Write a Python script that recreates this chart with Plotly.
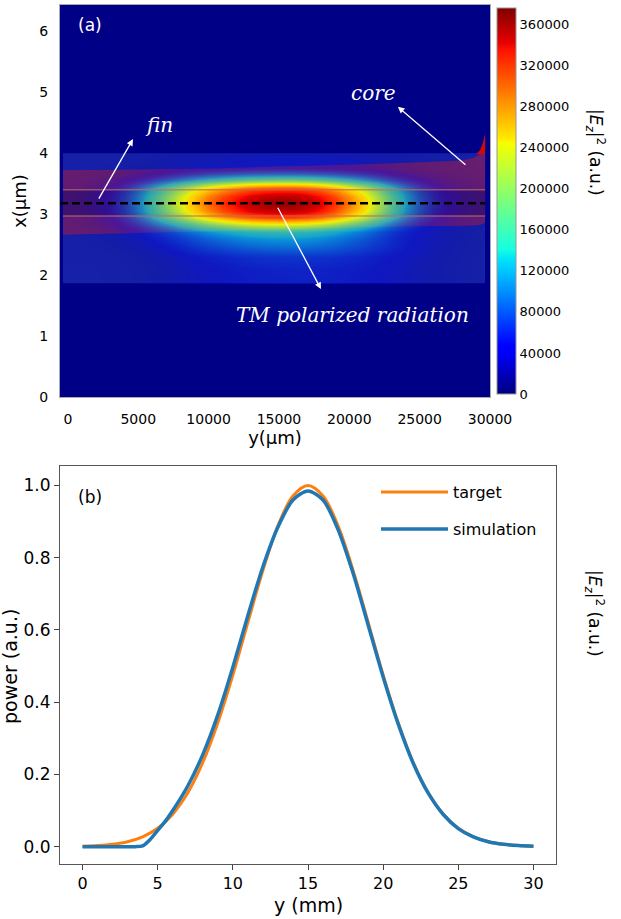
import plotly.graph_objects as go

W, H = 621, 919

# ---------------- panel (b): power profiles ----------------
y_mm = list(range(0, 31))
target = [0.0012, 0.0029, 0.0066, 0.0138, 0.0273, 0.051, 0.090, 0.149, 0.233, 0.343,
          0.475, 0.621, 0.765, 0.888, 0.971, 1.0, 0.971, 0.888, 0.765, 0.621,
          0.475, 0.343, 0.233, 0.149, 0.090, 0.051, 0.0273, 0.0138, 0.0066, 0.0029, 0.0012]

sim_y_mm = [0, 1, 2, 3, 3.5, 4, 4.5, 5, 5.5, 6, 7, 8, 9, 10, 11, 12, 13, 14, 15,
            16, 17, 18, 19, 20, 21, 22, 23, 24, 25, 26, 27, 28, 29, 30]
simulation = [0.0, 0.0, 0.0, 0.0, 0.0, 0.002, 0.02, 0.045, 0.07, 0.10, 0.168, 0.255, 0.365,
              0.497, 0.64, 0.775, 0.885, 0.96, 0.985, 0.96, 0.878, 0.757, 0.614, 0.47,
              0.34, 0.231, 0.148, 0.089, 0.05, 0.027, 0.0137, 0.0066, 0.0029, 0.0012]

# ---------------- panel (a): |Ez|^2 map ----------------
field_peak = 370000
map_y_mm = [0, 1, 2, 3, 4, 5, 6, 7, 8, 9, 10, 11, 12, 13, 14, 15, 16, 17, 18, 19,
            20, 21, 22, 23, 24, 25, 26, 27, 28, 29, 29.65]
map_along = [0.04, 0.06, 0.1, 0.15, 0.23, 0.33, 0.44, 0.55, 0.65, 0.74, 0.82, 0.88, 0.93,
             0.97, 0.99, 1.0, 1.0, 0.98, 0.94, 0.88, 0.8, 0.71, 0.6, 0.48, 0.37, 0.27,
             0.19, 0.13, 0.09, 0.06, 0.05]
leak_along = [0, 0, 0, 0.02, 0.06, 0.12, 0.22, 0.35, 0.5, 0.62, 0.72, 0.8, 0.87, 0.92,
              0.96, 0.98, 1.0, 1.0, 0.98, 0.95, 0.9, 0.84, 0.76, 0.67, 0.57, 0.46, 0.35,
              0.24, 0.14, 0.07, 0.03]
across_x_um = [0.0, 1.85, 1.87, 2.1, 2.3, 2.4, 2.5, 2.6, 2.7, 2.8, 2.95, 3.05, 3.18, 3.3,
               3.42, 3.5, 3.56, 3.65, 3.75, 3.85, 3.99, 4.01, 6.43]
core_across = [0, 0, 0, 0, 0.04, 0.1, 0.18, 0.28, 0.4, 0.6, 0.87, 0.96, 1.0, 0.96, 0.87,
               0.68, 0.5, 0.3, 0.15, 0.08, 0.04, 0, 0]
leak_across = [0, 0, 0.16, 0.17, 0.17, 0.17, 0.14, 0.09, 0.04, 0, 0, 0, 0, 0, 0, 0, 0,
               0, 0, 0.04, 0.05, 0, 0]

# structure outlines (y in um along, x in um across)
band_y_um = [-350, 29650, 29650, -350]
band_x_um = [1.865, 1.865, 4.0, 4.0]
fin_y_um = [-350, 5000, 10000, 15000, 20000, 25000, 28000, 28800, 29300, 29650,
            29650, 29300, 28500, 25000, 20000, 15000, 10000, 5000, -350]
fin_x_um = [3.72, 3.73, 3.75, 3.78, 3.81, 3.85, 3.88, 3.92, 3.98, 4.02,
            2.86, 2.82, 2.81, 2.80, 2.78, 2.75, 2.72, 2.69, 2.66]
core_y_um = [-350, 29650, 29650, -350]
core_x_um = [2.97, 2.97, 3.40, 3.40]
spike_y_um = [29000, 29300, 29500, 29650, 29650]
spike_x_um = [3.98, 4.05, 4.18, 4.32, 3.98]
core_line_y_um = [-350, 29650]
core_top_x_um = [3.40, 3.40]
core_bot_x_um = [2.97, 2.97]
axis_line_y_um = [-560, 29650]
axis_line_x_um = [3.18, 3.18]

cbar_ticks = [0, 40000, 80000, 120000, 160000, 200000, 240000, 280000, 320000, 360000]

jet = [[0.0, "rgb(0,0,128)"], [0.11, "rgb(0,0,255)"], [0.125, "rgb(0,0,255)"],
       [0.34, "rgb(0,219,255)"], [0.35, "rgb(0,229,247)"], [0.375, "rgb(21,255,226)"],
       [0.64, "rgb(238,255,8)"], [0.65, "rgb(247,255,0)"], [0.66, "rgb(255,236,0)"],
       [0.89, "rgb(255,19,0)"], [0.91, "rgb(232,0,0)"], [1.0, "rgb(128,0,0)"]]
# same jet map, with weak intensities see-through so the waveguide structure shows
jet_see_through = [
    [0.0, "rgba(0,0,128,0)"], [0.1, "rgba(0,0,243,0.22)"], [0.11, "rgba(0,0,255,0.24)"],
    [0.125, "rgba(0,0,255,0.27)"], [0.2, "rgba(0,77,255,0.4)"],
    [0.3, "rgba(0,179,255,0.52)"], [0.34, "rgba(0,219,255,0.56)"],
    [0.35, "rgba(0,229,247,0.57)"], [0.375, "rgba(21,255,226,0.6)"],
    [0.4, "rgba(41,255,206,0.63)"], [0.5, "rgba(123,255,123,0.75)"],
    [0.6, "rgba(206,255,41,0.88)"], [0.64, "rgba(238,255,8,0.93)"],
    [0.65, "rgba(247,255,0,0.94)"], [0.66, "rgba(255,236,0,0.95)"],
    [0.7, "rgb(255,202,0)"], [0.89, "rgb(255,19,0)"], [0.91, "rgb(232,0,0)"],
    [1.0, "rgb(128,0,0)"]]

z = [[field_peak * (c * a + l * b) for a, b in zip(map_along, leak_along)]
     for c, l in zip(core_across, leak_across)]
along_um = [v * 1000 for v in map_y_mm]


def fx(px):
    return px / W


def fy(py):
    return 1 - py / H


def poly_path(ys, xs):
    return "M " + " L ".join(f"{a},{b}" for a, b in zip(ys, xs)) + " Z"


FONT = "DejaVu Sans"
SERIF = "DejaVu Serif"

fig = go.Figure()

fig.add_trace(go.Heatmap(
    x=along_um, y=across_x_um, z=z, zmin=0, zmax=376000, colorscale=jet_see_through,
    zsmooth="best", xaxis="x", yaxis="y", hoverinfo="skip", showscale=False))

# colour bar (opaque jet)
fig.add_trace(go.Scatter(
    x=[None], y=[None], mode="markers", showlegend=False, hoverinfo="skip",
    xaxis="x", yaxis="y",
    marker=dict(color=[0], cmin=0, cmax=376000, colorscale=jet, showscale=True,
                colorbar=dict(x=fx(497), xanchor="left", xpad=0, y=fy(201),
                              yanchor="middle", ypad=0, len=386 / H, lenmode="fraction",
                              thickness=19, thicknessmode="pixels", tickvals=cbar_ticks,
                              tickformat="d", ticks="",
                              tickfont=dict(family=FONT, size=13, color="black"),
                              outlinecolor="rgb(150,150,150)", outlinewidth=1))))

fig.add_trace(go.Scatter(x=spike_y_um, y=spike_x_um, fill="toself", mode="none",
                         fillcolor="rgb(205,10,10)", showlegend=False,
                         hoverinfo="skip", xaxis="x", yaxis="y"))
for xs in (core_top_x_um, core_bot_x_um):
    fig.add_trace(go.Scatter(x=core_line_y_um, y=xs, mode="lines",
                             line=dict(color="rgba(190,110,95,0.7)", width=1.5),
                             showlegend=False, hoverinfo="skip", xaxis="x", yaxis="y"))
fig.add_trace(go.Scatter(x=axis_line_y_um, y=axis_line_x_um, mode="lines",
                         line=dict(color="black", width=2.5, dash="8px,4px"),
                         showlegend=False, hoverinfo="skip", xaxis="x", yaxis="y"))

# panel (b) lines
fig.add_trace(go.Scatter(x=y_mm, y=target, mode="lines", name="target",
                         line=dict(color="#ff7f0e", width=3, shape="spline"),
                         xaxis="x2", yaxis="y2", legend="legend"))
fig.add_trace(go.Scatter(x=sim_y_mm, y=simulation, mode="lines", name="simulation",
                         line=dict(color="#1f77b4", width=3.5, shape="spline",
                                   smoothing=0.8),
                         xaxis="x2", yaxis="y2", legend="legend2"))

# waveguide structure drawn underneath the field
shapes = [dict(type="rect", xref="x domain", yref="y domain", x0=0, x1=1, y0=0, y1=1,
               fillcolor="rgb(0,0,135)", line=dict(width=0), layer="below")]
for ys, xs, col in ((band_y_um, band_x_um, "rgb(22,32,168)"),
                    (fin_y_um, fin_x_um, "rgb(105,30,112)"),
                    (core_y_um, core_x_um, "rgb(68,20,105)")):
    shapes.append(dict(type="path", xref="x", yref="y", path=poly_path(ys, xs),
                       fillcolor=col, line=dict(width=0), layer="below"))

ann = []
ann.append(dict(x=fx(90), y=fy(25), xref="paper", yref="paper", text="(a)",
                xanchor="center", yanchor="middle",
                showarrow=False, font=dict(family=FONT, size=17, color="white")))
ann.append(dict(x=fx(90), y=fy(497), xref="paper", yref="paper", text="(b)",
                xanchor="center", yanchor="middle",
                showarrow=False, font=dict(family=FONT, size=17, color="black")))
ann.append(dict(x=fx(308), y=fy(905), xref="paper", yref="paper", text="y (mm)",
                xanchor="center", yanchor="middle",
                showarrow=False, font=dict(family=FONT, size=19, color="black")))
ann.append(dict(x=fx(10), y=fy(667), xref="paper", yref="paper", text="power (a.u.)",
                xanchor="center", yanchor="middle", textangle=-90, showarrow=False,
                font=dict(family=FONT, size=19, color="black")))
ez = "<i>|E<sub>z</sub>|</i><sup>2</sup> (a.u.)"
for py in (152, 613):
    ann.append(dict(x=fx(595), y=fy(py), xref="paper", yref="paper", text=ez,
                    xanchor="center", yanchor="middle", textangle=90, showarrow=False,
                    font=dict(family=FONT, size=17, color="black")))
for txt, xx, yy in (("fin", 6475, 4.46), ("core", 21755, 4.99),
                    ("TM polarized radiation", 20262, 1.345)):
    ann.append(dict(x=xx, y=yy, xref="x", yref="y", text="<i>" + txt + "</i>",
                    xanchor="center", yanchor="middle",
                    showarrow=False, font=dict(family=SERIF, size=20, color="white")))
for hx, hy, tx, ty in ((4627, 4.23, 2139, 3.23), (23457, 4.76, 28361, 3.79),
                       (17988, 1.77, 14861, 3.13)):
    ann.append(dict(x=hx, y=hy, ax=tx, ay=ty, xref="x", yref="y", axref="x", ayref="y",
                    text="", showarrow=True, arrowhead=2, arrowsize=1, arrowwidth=1.3,
                    arrowcolor="white", standoff=0, startstandoff=0))

fig.update_layout(
    width=W, height=H, template="none",
    margin=dict(l=0, r=0, t=0, b=0, autoexpand=False),
    paper_bgcolor="white", plot_bgcolor="rgba(0,0,0,0)",
    font=dict(family=FONT, color="black"),
    annotations=ann, shapes=shapes,
    xaxis=dict(domain=[fx(60), fx(490)], range=[-560, 30000], anchor="y",
               tickvals=[0, 5000, 10000, 15000, 20000, 25000, 30000], tickformat="d",
               ticks="outside", ticklen=9, tickcolor="rgba(0,0,0,0)",
               showgrid=False, zeroline=False, showline=True, mirror=True,
               linecolor="rgb(170,170,170)", linewidth=1,
               tickfont=dict(size=14), automargin=False,
               title=dict(text="y(μm)", font=dict(size=18), standoff=5)),
    yaxis=dict(domain=[fy(397), fy(5)], range=[0, 6.43], anchor="x",
               tickvals=[0, 1, 2, 3, 4, 5, 6], ticks="outside", ticklen=8,
               tickcolor="rgba(0,0,0,0)",
               showgrid=False, zeroline=False, showline=True, mirror=True,
               linecolor="rgb(170,170,170)", linewidth=1,
               tickfont=dict(size=14), automargin=False,
               title=dict(text="x(μm)", font=dict(size=18), standoff=7)),
    xaxis2=dict(domain=[fx(60), fx(556)], range=[-1.5, 31.5], anchor="y2",
                tickvals=[0, 5, 10, 15, 20, 25, 30], ticks="outside", ticklen=5,
                tickcolor="#444", showgrid=False, zeroline=False, showline=True,
                mirror=True, linecolor="#555", linewidth=1,
                tickfont=dict(size=16), automargin=False),
    yaxis2=dict(domain=[fy(864), fy(466)], range=[-0.048, 1.054], anchor="x2",
                tickvals=[0, 0.2, 0.4, 0.6, 0.8, 1.0], tickformat=".1f",
                ticks="outside", ticklen=5, tickcolor="#444", showgrid=False,
                zeroline=False, showline=True, mirror=True, linecolor="#555",
                linewidth=1, tickfont=dict(size=17), automargin=False),
    legend=dict(x=fx(376), y=fy(475), xanchor="left", yanchor="top",
                bgcolor="rgba(0,0,0,0)", borderwidth=0, itemwidth=67,
                font=dict(size=16)),
    legend2=dict(x=fx(376), y=fy(512), xanchor="left", yanchor="top",
                 bgcolor="rgba(0,0,0,0)", borderwidth=0, itemwidth=67,
                 font=dict(size=16)),
)

fig.write_html("out.html", config={"displayModeBar": False},
               post_script="document.body.style.margin='0px';")
